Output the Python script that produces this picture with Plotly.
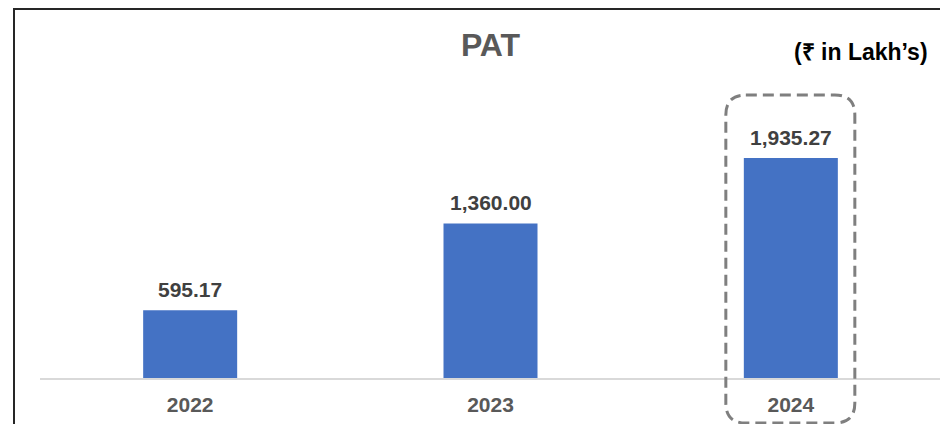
import plotly.graph_objects as go

years = ["2022", "2023", "2024"]
pat_values = [595.17, 1360.00, 1935.27]
value_labels = ["{:,.2f}".format(v) for v in pat_values]
title_text = "PAT"
unit_text = "(₹ in Lakh’s)"
highlight_year = "2024"

# page has an 8px body margin; figure is sized/placed to compensate
W, H = 940, 416
ML, MR, MT, MB = 32, 7, 120, 46
plot_w = W - ML - MR
plot_h = H - MT - MB
base_px = H - MB  # baseline in figure pixels

fig = go.Figure()
fig.add_trace(go.Bar(
    x=years, y=pat_values, width=0.313,
    marker=dict(color="#4472C4", line=dict(width=0)),
    hoverinfo="skip",
))

for i, (v, lab) in enumerate(zip(pat_values, value_labels)):
    fig.add_annotation(x=i, y=v, xref="x", yref="y", text="<b>%s</b>" % lab,
                       showarrow=False, yanchor="middle", yshift=21,
                       font=dict(family="Liberation Sans, Arial", size=21, color="#404040"))

fig.add_annotation(x=(922 - ML) / plot_w, y=(base_px - 44) / plot_h, xref="paper", yref="paper",
                   text="<b>%s</b>" % unit_text, showarrow=False, xanchor="right", yanchor="middle",
                   font=dict(family="Liberation Sans, Arial", size=23, color="#000000"))

# outer border (top and left edges visible)
fig.add_shape(type="rect", xref="paper", yref="paper",
              x0=(6 - ML) / plot_w, x1=1.3, y0=-0.6, y1=(base_px - 1) / plot_h,
              line=dict(color="#262626", width=2), fillcolor="rgba(0,0,0,0)", layer="above")

# dashed highlight box around the highlighted year
hx = years.index(highlight_year)
x0, x1, y0, y1, r = -65, 64, -45, 283, 20
path = (f"M {x0+r},{y1} L {x1-r},{y1} Q {x1},{y1} {x1},{y1-r} "
        f"L {x1},{y0+r} Q {x1},{y0} {x1-r},{y0} L {x0+r},{y0} "
        f"Q {x0},{y0} {x0},{y0+r} L {x0},{y1-r} Q {x0},{y1} {x0+r},{y1} Z")
fig.add_shape(type="path", path=path, xref="paper", yref="paper",
              xsizemode="pixel", ysizemode="pixel",
              xanchor=(hx + 0.5) / len(years), yanchor=0,
              line=dict(color="#7f7f7f", width=3, dash="11px,6px"),
              fillcolor="rgba(0,0,0,0)", layer="above")

fig.update_layout(
    width=W, height=H,
    margin=dict(l=ML, r=MR, t=MT, b=MB, pad=0),
    paper_bgcolor="white", plot_bgcolor="white",
    showlegend=False,
    title=dict(text="<b>%s</b>" % title_text, x=0.5, xref="paper", y=1 - 37 / H,
               yanchor="middle", xanchor="center",
               font=dict(family="Liberation Sans, Arial", size=32, color="#595959")),
    xaxis=dict(type="category", range=[-0.5, len(years) - 0.5], autorange=False,
               showline=True, linecolor="#d9d9d9", linewidth=1.5,
               showgrid=False, ticks="", ticklabelstandoff=7,
               tickfont=dict(family="Liberation Sans, Arial", size=21, color="#595959"),
               tickprefix="<b>", ticksuffix="</b>", fixedrange=True),
    yaxis=dict(range=[0, 2200], visible=False, showgrid=False, zeroline=False, fixedrange=True),
)

fig.write_html("out.html", config={"displayModeBar": False})
